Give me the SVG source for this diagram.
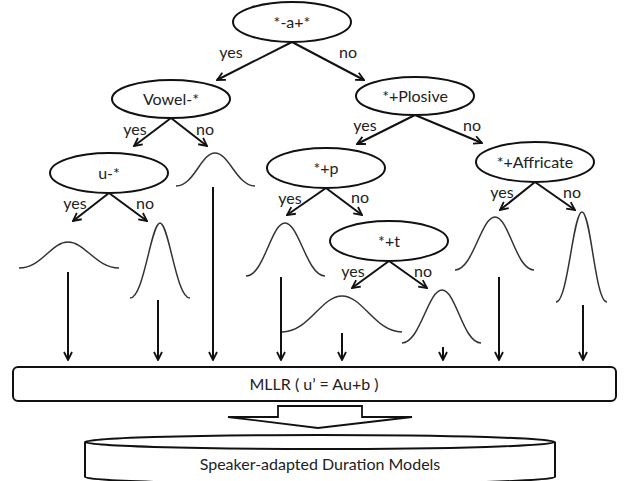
<svg xmlns="http://www.w3.org/2000/svg" width="631" height="481" viewBox="0 0 631 481">
<defs>
<style>
.node ellipse{fill:#fff;stroke:#111;stroke-width:2}
text{font-family:"Lato","Open Sans","Liberation Sans",sans-serif;font-size:16px;fill:#222;text-anchor:middle}
.edge{stroke:#111;stroke-width:2;fill:none;marker-end:url(#ah)}
.g{stroke:#333;stroke-width:1.5;fill:none}
.box{fill:#fff;stroke:#111;stroke-width:2}
</style>
<marker id="ah" viewBox="0 0 10 10" refX="9" refY="5" markerWidth="10" markerHeight="10" markerUnits="userSpaceOnUse" orient="auto">
<path d="M1,1 L9,5 L1,9" fill="none" stroke="#111" stroke-width="1.8"/>
</marker>
</defs>
<rect width="631" height="481" fill="#fff"/>
<g id="connectors">
<path class="edge" d="M292,42 L217,80"/>
<path class="edge" d="M292,42 L364,80"/>
<path class="edge" d="M171,118 L134,146"/>
<path class="edge" d="M171,118 L207,146"/>
<path class="edge" d="M109,193 L73,221"/>
<path class="edge" d="M109,193 L147,221"/>
<path class="edge" d="M415,115 L357,144"/>
<path class="edge" d="M415,115 L482,143"/>
<path class="edge" d="M326,188 L287,215"/>
<path class="edge" d="M326,188 L362,215"/>
<path class="edge" d="M535,182 L500,210"/>
<path class="edge" d="M535,182 L575,210"/>
<path class="edge" d="M389,261 L352,288"/>
<path class="edge" d="M389,261 L427,288"/>
<path class="edge" d="M68,272 L68,360"/>
<path class="edge" d="M158,300 L158,360"/>
<path class="edge" d="M213,187 L213,360"/>
<path class="edge" d="M281,277 L281,360"/>
<path class="edge" d="M342,333 L342,360"/>
<path class="edge" d="M443,347 L443,360"/>
<path class="edge" d="M499,277 L499,360"/>
<path class="edge" d="M583,305 L583,360"/>
</g>
<g id="labels">
<text x="231" y="58">yes</text><text x="348" y="58">no</text>
<text x="135" y="135">yes</text><text x="205" y="135">no</text>
<text x="75" y="209">yes</text><text x="145" y="209">no</text>
<text x="365" y="131">yes</text><text x="472" y="131">no</text>
<text x="290" y="204">yes</text><text x="360" y="203">no</text>
<text x="502" y="198">yes</text><text x="572" y="198">no</text>
<text x="353" y="277">yes</text><text x="423" y="277">no</text>
</g>
<g id="n-root" class="node"><ellipse cx="292" cy="22" rx="59" ry="20"/><text x="292" y="28">*-a+*</text></g>
<g id="n-vowel" class="node"><ellipse cx="171" cy="99" rx="59" ry="19"/><text x="171" y="105">Vowel-*</text></g>
<g id="n-u" class="node"><ellipse cx="109" cy="173" rx="59" ry="20"/><text x="109" y="179">u-*</text></g>
<g id="n-plosive" class="node"><ellipse cx="415" cy="96" rx="59" ry="19"/><text x="415" y="102">*+Plosive</text></g>
<g id="n-p" class="node"><ellipse cx="326" cy="168" rx="59" ry="20"/><text x="326" y="174">*+p</text></g>
<g id="n-affricate" class="node"><ellipse cx="535" cy="162" rx="59" ry="20"/><text x="535" y="168">*+Affricate</text></g>
<g id="n-t" class="node"><ellipse cx="389" cy="241" rx="59" ry="20"/><text x="389" y="247">*+t</text></g>
<g id="gaussians">
<path class="g" d="M176,186 C194,186 201,153 215,153 C229,153 237,186 255,186"/>
<path class="g" d="M19,268 C42,268 51,242 68,242 C85,242 96,268 119,268"/>
<path class="g" d="M130,298 C144,298 151,223 160,223 C169,223 176,298 190,298"/>
<path class="g" d="M246,276 C264,276 271,223 285,223 C299,223 307,276 325,276"/>
<path class="g" d="M282,332 C309,332 321,296 342,296 C363,296 375,332 402,332"/>
<path class="g" d="M402,343 C420,343 428,290 442,290 C456,290 463,343 481,343"/>
<path class="g" d="M455,270 C473,270 481,217 495,217 C509,217 516,270 534,270"/>
<path class="g" d="M556,302 C568,302 573,212 582,212 C591,212 595,302 607,302"/>
</g>
<g id="n-mllr">
<rect class="box" x="13" y="367" width="603" height="34" rx="5"/>
<text x="314" y="390">MLLR ( u’ = Au+b )</text>
</g>
<g id="block-arrow">
<path d="M278,417 L278,406 L362,406 L362,417 L412,417 L318,428 L228,417 Z" fill="#fff" stroke="#111" stroke-width="1.8" stroke-linejoin="miter"/>
</g>
<g id="n-models">
<path class="box" d="M85,442 L85,477 A235,7 0 0 0 555,477 L555,442"/>
<ellipse cx="320" cy="442" rx="235" ry="7" fill="#fff" stroke="#111" stroke-width="2"/>
<text x="320" y="470">Speaker-adapted Duration Models</text>
</g>
</svg>
